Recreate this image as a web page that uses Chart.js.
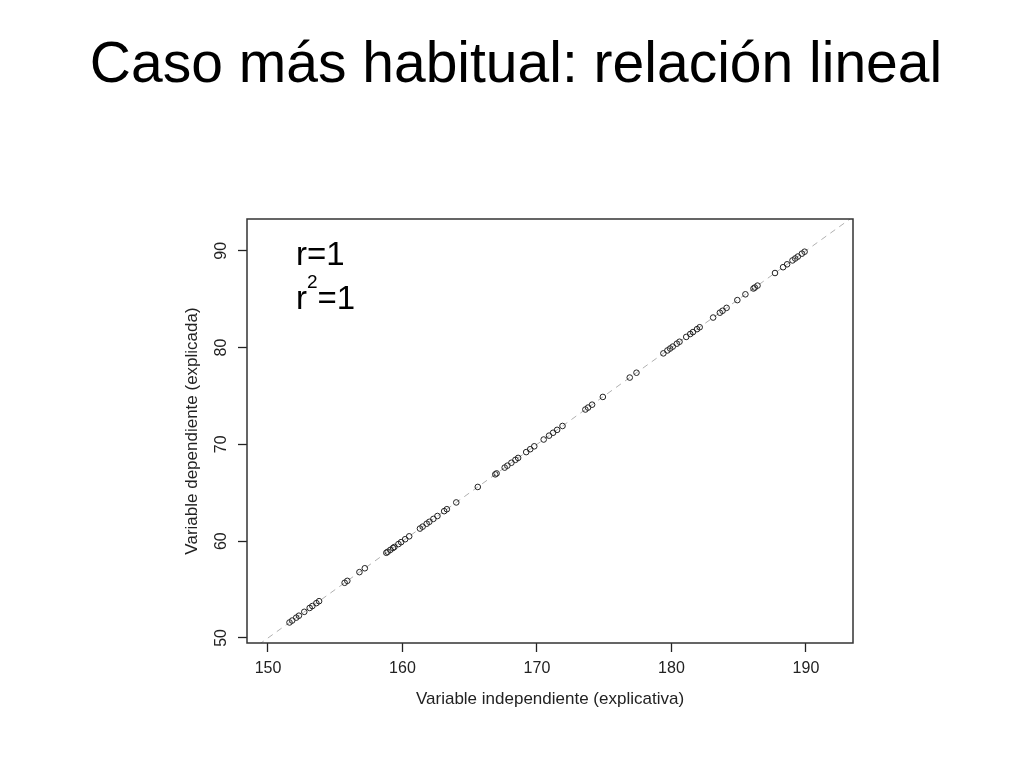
<!DOCTYPE html>
<html><head><meta charset="utf-8">
<script src="https://cdn.jsdelivr.net/npm/chart.js@4/dist/chart.umd.min.js"></script>
<style>
html,body{margin:0;padding:0;background:#fff;}
#wrap{position:relative;width:1024px;height:768px;overflow:hidden;font-family:"Liberation Sans",Arial,sans-serif;}
#title{position:absolute;left:0;top:34px;width:1032px;text-align:center;font-size:57px;line-height:57px;color:#000;white-space:nowrap;}
.ann{position:absolute;left:296px;font-size:33px;line-height:33px;color:#000;white-space:nowrap;}
.ann .sup{position:relative;top:-21px;font-size:19px;}
canvas{position:absolute;left:0;top:0;}
</style></head>
<body><div id="wrap">
<canvas id="c" width="1024" height="768"></canvas>
<div id="title">Caso más habitual: relación lineal</div>
<div class="ann" style="top:237px">r=1</div>
<div class="ann" style="top:281px">r<span class="sup">2</span>=1</div>
</div>
<script>
const xValues = [151.6,151.8,152.1,152.3,152.7,153.1,153.3,153.6,153.8,155.7,155.9,156.8,157.2,
158.8,158.9,159.1,159.3,159.4,159.7,159.9,160.2,160.5,
161.3,161.5,161.8,162.0,162.3,162.6,163.1,163.3,164.0,
165.6,166.9,167.0,167.6,167.8,168.1,168.4,168.6,169.2,169.5,169.8,
170.5,170.9,171.2,171.5,171.9,
173.6,173.8,174.1,174.9,176.9,177.4,
179.4,179.7,179.9,180.1,180.4,180.6,181.1,181.4,181.6,181.9,182.1,
183.1,183.6,183.8,184.1,184.9,185.5,186.1,186.2,186.4,
187.7,188.3,188.6,189.0,189.2,189.4,189.7,189.9];
const yValues = [51.6,51.8,52.1,52.3,52.7,53.1,53.3,53.6,53.8,55.7,55.9,56.8,57.2,
58.8,58.9,59.1,59.3,59.4,59.7,59.9,60.2,60.5,
61.3,61.5,61.8,62.0,62.3,62.6,63.1,63.3,64.0,
65.6,66.9,67.0,67.6,67.8,68.1,68.4,68.6,69.2,69.5,69.8,
70.5,70.9,71.2,71.5,71.9,
73.6,73.8,74.1,74.9,76.9,77.4,
79.4,79.7,79.9,80.1,80.4,80.6,81.1,81.4,81.6,81.9,82.1,
83.1,83.6,83.8,84.1,84.9,85.5,86.1,86.2,86.4,
87.7,88.3,88.6,89.0,89.2,89.4,89.7,89.9];
const lineX = [148, 194];
const lineY = [48, 94];
const xTicks = [150, 160, 170, 180, 190];
const yTicks = [50, 60, 70, 80, 90];
const xRange = [148.44, 193.5];
const yRange = [49.48, 93.28];
const xTitle = 'Variable independiente (explicativa)';
const yTitle = 'Variable dependiente (explicada)';

const FONT = '"Liberation Sans", Arial, sans-serif';
const points = xValues.map((x, i) => ({x: x, y: yValues[i]}));
const linePts = lineX.map((x, i) => ({x: x, y: lineY[i]}));

const boxPlugin = {
  id: 'box',
  afterDatasetsDraw(chart) {
    const {ctx, chartArea: a} = chart;
    ctx.save();
    ctx.strokeStyle = '#333';
    ctx.lineWidth = 1.5;
    ctx.strokeRect(a.left, a.top, a.right - a.left, a.bottom - a.top);
    ctx.restore();
  }
};

new Chart(document.getElementById('c'), {
  data: {
    datasets: [
      {type: 'scatter', data: points, pointRadius: 2.8, pointHoverRadius: 2.8, pointBorderWidth: 1,
       borderColor: '#222', backgroundColor: 'rgba(0,0,0,0)', order: 1},
      {type: 'line', data: linePts, borderColor: '#b0b0b0', borderWidth: 1, borderDash: [6, 5],
       pointRadius: 0, fill: false, order: 2}
    ]
  },
  options: {
    responsive: false,
    devicePixelRatio: 1,
    animation: false,
    layout: {padding: {left: 170, right: 171, top: 219, bottom: 55}},
    plugins: {legend: {display: false}, tooltip: {enabled: false}},
    scales: {
      x: {
        type: 'linear', min: xRange[0], max: xRange[1],
        afterBuildTicks: s => { s.ticks = xTicks.map(v => ({value: v})); },
        afterFit: s => { s.height = 70; },
        grid: {display: true, drawOnChartArea: false, drawTicks: true, tickLength: 9, tickColor: '#222', tickWidth: 1.3},
        border: {display: false},
        ticks: {color: '#222', font: {family: FONT, size: 16}, padding: 7, minRotation: 0, maxRotation: 0},
        title: {display: true, text: xTitle, color: '#222', font: {family: FONT, size: 17}, padding: {top: 0, bottom: 3}}
      },
      y: {
        type: 'linear', min: yRange[0], max: yRange[1],
        afterBuildTicks: s => { s.ticks = yTicks.map(v => ({value: v})); },
        afterFit: s => { s.width = 77; },
        grid: {display: true, drawOnChartArea: false, drawTicks: true, tickLength: 9, tickColor: '#222', tickWidth: 1.3},
        border: {display: false},
        ticks: {color: '#222', font: {family: FONT, size: 16}, padding: 8, minRotation: 90, maxRotation: 90, crossAlign: 'center'},
        title: {display: true, text: yTitle, color: '#222', font: {family: FONT, size: 17}, padding: {top: 12, bottom: 0}}
      }
    }
  },
  plugins: [boxPlugin]
});
</script>
</body></html>
